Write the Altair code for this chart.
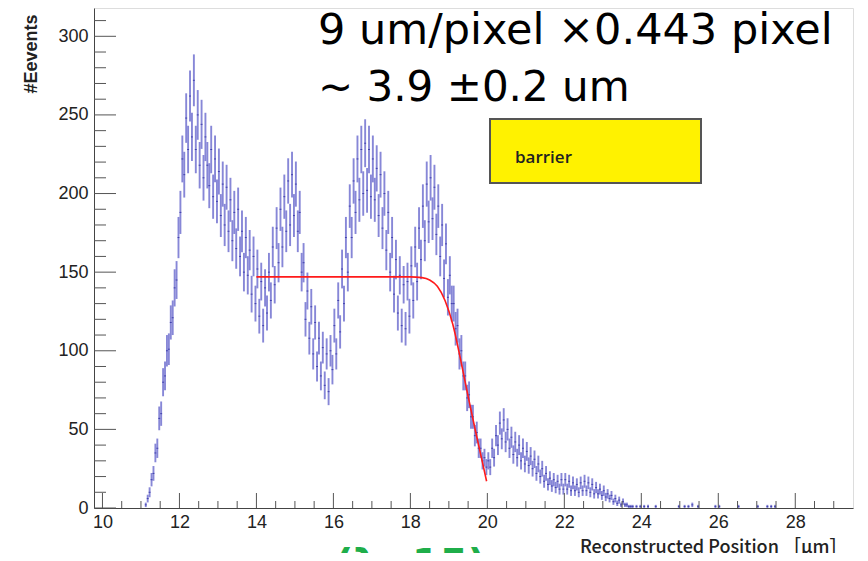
import altair as alt
import pandas as pd

# ---------------- data ----------------
bin_start = 11.0
bin_width = 0.05
counts = [
    # 11.00 - 11.95
    0, 0, 2, 6, 10, 18, 22, 35, 38, 57, 60, 80, 84, 100, 101, 118, 121, 140, 145, 172,
    # 12.00 - 12.95
    188, 222, 212, 248, 228, 262, 236, 272, 228, 250, 218, 244, 210, 236, 218, 205, 228, 198, 222, 195,
    # 13.00 - 13.95
    214, 186, 206, 180, 204, 176, 196, 170, 188, 165, 190, 160, 176, 150, 172, 148, 164, 136, 160, 130,
    # 14.00 - 14.95
    152, 122, 144, 116, 140, 124, 150, 132, 166, 142, 178, 156, 190, 166, 198, 176, 208, 180, 212, 186,
    # 15.00 - 15.95
    206, 176, 188, 150, 156, 120, 138, 108, 128, 98, 118, 90, 108, 84, 102, 78, 98, 74, 100, 88,
    # 16.00 - 16.95
    116, 98, 132, 112, 152, 130, 172, 150, 192, 172, 208, 188, 222, 196, 228, 200, 232, 202, 228, 198,
    # 17.00 - 17.95
    222, 196, 216, 186, 212, 178, 200, 164, 188, 150, 172, 136, 158, 124, 148, 116, 142, 114, 144, 122,
    # 18.00 - 18.95
    154, 132, 166, 144, 178, 158, 192, 170, 206, 182, 210, 184, 204, 174, 192, 160, 180, 146, 168, 134,
    # 19.00 - 19.95
    148, 130, 130, 114, 116, 98, 100, 84, 84, 70, 72, 58, 58, 46, 48, 38, 38, 30, 32, 26,
    # 20.00 - 20.95
    30, 26, 38, 32, 46, 40, 54, 44, 56, 42, 50, 38, 45, 34, 42, 32, 40, 30, 38, 28,
    # 21.00 - 21.95
    36, 27, 33, 25, 31, 22, 28, 20, 25, 17, 22, 15, 19, 14, 18, 13, 17, 12, 18, 12,
    # 22.00 - 22.95
    18, 12, 17, 11, 16, 11, 15, 10, 16, 11, 17, 11, 16, 10, 15, 9, 13, 9, 12, 8,
    # 23.00 - 23.95
    11, 7, 9, 6, 8, 4, 6, 3, 5, 2, 4, 2, 2, 1, 1, 1, 0, 1, 0, 1,
    # 24.00 - 24.95
    0, 1, 0, 1, 0, 0, 0, 1, 0, 0, 0, 0, 0, 0, 0, 0, 0, 0, 0, 1,
    # 25.00 - 25.95
    0, 0, 1, 0, 1, 0, 2, 0, 0, 1, 0, 0, 0, 0, 0, 0, 0, 0, 1, 0,
    # 26.00 - 26.95
    1, 0, 0, 0, 0, 0, 0, 0, 0, 0, 1, 0, 0, 0, 0, 0, 0, 0, 0, 0,
    # 27.00 - 27.95
    1, 0, 0, 0, 0, 1, 0, 1, 0, 1, 0, 0, 0, 0, 0, 0, 0, 0, 0, 0,
]

fit_x = [14.0, 15.0, 16.0, 17.0, 18.0, 18.3, 18.5, 18.7, 18.9, 19.1, 19.3, 19.5, 19.7, 19.9, 19.98]
fit_y = [147, 147, 147, 147, 147, 146.5, 145, 141, 132, 117, 95, 71, 48, 26, 17]

x_major = [10, 12, 14, 16, 18, 20, 22, 24, 26, 28]
x_minor = [10.5, 11, 11.5, 12.5, 13, 13.5, 14.5, 15, 15.5, 16.5, 17, 17.5, 18.5, 19, 19.5,
           20.5, 21, 21.5, 22.5, 23, 23.5, 24.5, 25, 25.5, 26.5, 27, 27.5, 28.5, 29]
y_major = [0, 50, 100, 150, 200, 250, 300]
y_minor = [10, 20, 30, 40, 60, 70, 80, 90, 110, 120, 130, 140, 160, 170, 180, 190,
           210, 220, 230, 240, 260, 270, 280, 290, 310]

note_line1 = "9 um/pixel ×0.443 pixel"
note_line2 = "~ 3.9 ±0.2 um"
box_label = "barrier"
green_note = "(λ=15)"
x_title = "Reconstructed Position ［μm］"
y_title = "#Eevents"

# ---------------- chart ----------------
W, H = 759, 500
hist = pd.DataFrame({
    "x": [bin_start + bin_width * (i + 0.5) for i in range(len(counts))],
    "n": counts,
})
fit = pd.DataFrame({"x": fit_x, "y": fit_y})

xs = alt.Scale(domain=[9.78, 29.5], nice=False, zero=False)
ys = alt.Scale(domain=[0, 318], nice=False, zero=False)

LBL_FONT = "Liberation Sans"
xaxis = alt.Axis(values=x_major, ticks=False, tickSize=0, grid=False, labelFlush=False,
                 labelFont=LBL_FONT, labelFontSize=18, labelColor="#222", labelPadding=5,
                 domainColor="#444", title=x_title, titleFont="Noto Sans CJK JP",
                 titleFontSize=18, titleFontWeight=500, titleColor="#222",
                 titleX=753, titleY=44, titleAlign="right", titleBaseline="alphabetic")
yaxis = alt.Axis(values=y_major, ticks=False, tickSize=0, grid=False, labelFlush=False,
                 labelFont=LBL_FONT, labelFontSize=18, labelColor="#222", labelPadding=6,
                 domainColor="#444", title=y_title, titleFont="Liberation Sans",
                 titleFontSize=18, titleFontWeight="bold", titleColor="#222",
                 titleAngle=270, titleX=-63, titleY=45.5, titleAlign="center",
                 titleBaseline="middle")


def X(field):
    return alt.X(field, type="quantitative", scale=xs, axis=xaxis)


def Y(field):
    return alt.Y(field, type="quantitative", scale=ys, axis=yaxis)


errbars = alt.Chart(hist).transform_filter("datum.n > 0").transform_calculate(
    lo="max(0, datum.n - sqrt(datum.n))", hi="datum.n + sqrt(datum.n)"
).mark_rule(color="#5454c6", opacity=0.7, strokeWidth=1.9).encode(
    x=X("x"), y=Y("lo"), y2="hi:Q"
)

hbars = alt.Chart(hist).transform_filter("datum.n > 0").transform_calculate(
    x0=f"datum.x - {bin_width / 2}", x1=f"datum.x + {bin_width / 2}"
).mark_rule(color="#3232a4", opacity=0.85, strokeWidth=1).encode(
    x=X("x0"), x2="x1:Q", y=Y("n")
)

fitline = alt.Chart(fit).mark_line(color="#ff1a1a", strokeWidth=1.6, interpolate="monotone").encode(
    x=X("x"), y=Y("y")
)

tick_color = "#555"
xmaj = alt.Chart(pd.DataFrame({"x": x_major})).mark_rule(color=tick_color).encode(
    x=X("x"), y=alt.value(H), y2=alt.value(H - 15))
xmin = alt.Chart(pd.DataFrame({"x": x_minor})).mark_rule(color=tick_color).encode(
    x=X("x"), y=alt.value(H), y2=alt.value(H - 7))
ymaj = alt.Chart(pd.DataFrame({"y": y_major})).mark_rule(color=tick_color).encode(
    y=Y("y"), x=alt.value(0), x2=alt.value(22))
ymin = alt.Chart(pd.DataFrame({"y": y_minor})).mark_rule(color=tick_color).encode(
    y=Y("y"), x=alt.value(0), x2=alt.value(12))

one = pd.DataFrame({"t": [box_label]})
box = alt.Chart(one).mark_rect(fill="#fff200", stroke="#555", strokeWidth=2).encode(
    x=alt.value(396), x2=alt.value(607), y=alt.value(111), y2=alt.value(175))
box_text = alt.Chart(one).mark_text(align="left", baseline="alphabetic", font="Open Sans",
                                    fontSize=17, fontWeight=600, color="#222").encode(
    x=alt.value(421), y=alt.value(155), text="t:N")

t1 = alt.Chart(pd.DataFrame({"t": [note_line1]})).mark_text(
    align="left", baseline="alphabetic", font="DejaVu Sans", fontSize=43, color="black").encode(
    x=alt.value(224), y=alt.value(36), text="t:N")
t2 = alt.Chart(pd.DataFrame({"t": [note_line2]})).mark_text(
    align="left", baseline="alphabetic", font="DejaVu Sans", fontSize=42, color="black").encode(
    x=alt.value(224), y=alt.value(93), text="t:N")
tg = alt.Chart(pd.DataFrame({"t": [green_note]})).mark_text(
    align="left", baseline="top", font="DejaVu Sans", fontSize=40, fontWeight="bold",
    color="#1fae4a").encode(x=alt.value(241), y=alt.value(538), text="t:N")

chart = alt.layer(
    box, errbars, hbars, fitline, xmaj, xmin, ymaj, ymin, box_text, t1, t2, tg
).properties(
    width=W, height=H,
    autosize=alt.AutoSizeParams(type="none"),
    padding={"left": 86, "top": 0, "right": 2, "bottom": 45},
).configure_view(stroke="#9a9a9a", strokeWidth=1).configure(background="white")

chart.save("out.html", embed_options={"renderer": "svg", "actions": False})
